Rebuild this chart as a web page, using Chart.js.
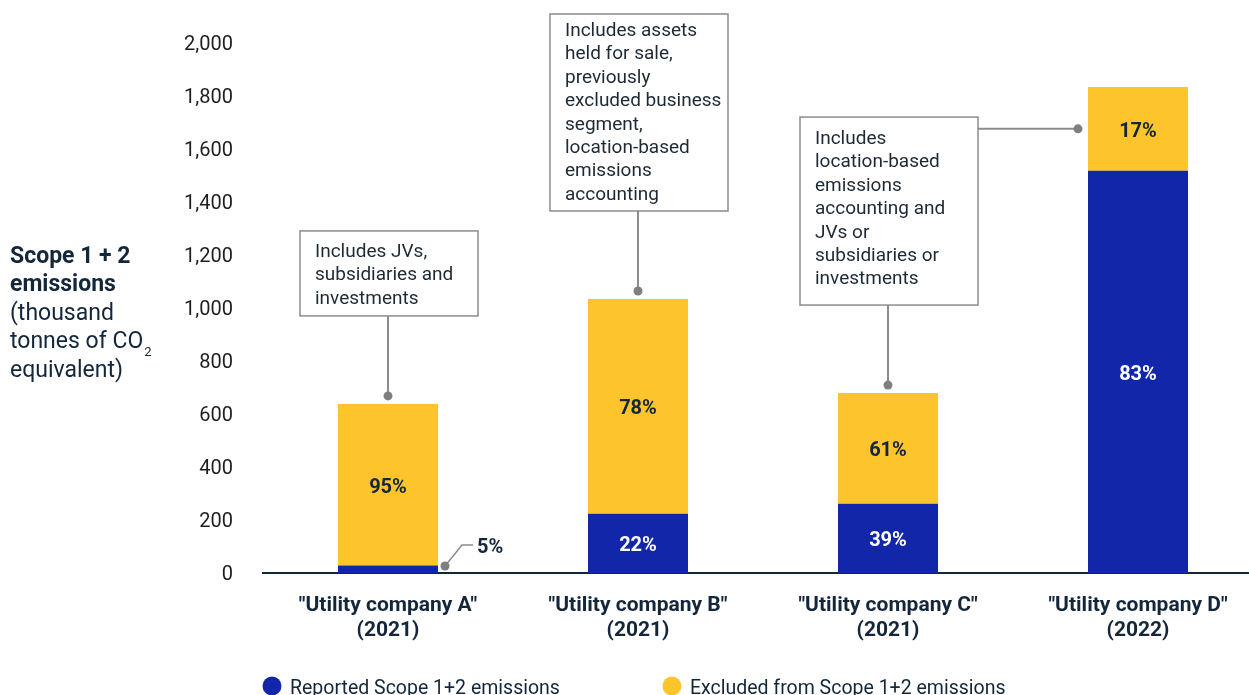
<!DOCTYPE html>
<html>
<head>
<meta charset="utf-8">
<script src="https://cdn.jsdelivr.net/npm/chart.js@4.4.1/dist/chart.umd.min.js"></script>
<style>
    body { margin: 0; background: #ffffff; overflow: hidden; }
    #wrap { position: absolute; left: 0; top: 0; width: 1270px; height: 695px; }
</style>
</head>
<body>
<div id="wrap"><canvas id="scope-emissions-chart" width="1270" height="695"></canvas></div>
<script>
// data
const companies = [
    ['"Utility company A"', '(2021)'],
    ['"Utility company B"', '(2021)'],
    ['"Utility company C"', '(2021)'],
    ['"Utility company D"', '(2022)']
];
const reported = [28, 224, 261, 1518];   // Reported Scope 1+2 (thousand t CO2e)
const excluded = [610, 810, 418, 316];   // Excluded from Scope 1+2
const reportedPct = [5, 22, 39, 83];
const excludedPct = [95, 78, 61, 17];
const seriesNames = ['Reported Scope 1+2 emissions', 'Excluded from Scope 1+2 emissions'];
const yMax = 2000;
const yStep = 200;
const yTitle = ['Scope 1 + 2', 'emissions', '(thousand', 'tonnes of CO', 'equivalent)'];

const noteA = ['Includes JVs,', 'subsidiaries and', 'investments'];
const noteB = ['Includes assets', 'held for sale,', 'previously', 'excluded business', 'segment,', 'location-based', 'emissions', 'accounting'];
const noteC = ['Includes', 'location-based', 'emissions', 'accounting and', 'JVs or', 'subsidiaries or', 'investments'];

const BLUE = '#1226a9';
const YELLOW = '#fdc42b';
const NAVY = '#13263a';
const GREY = '#8c8c8c';

// judul sumbu y
const yTitlePlugin = {
    id: 'yTitle',
    afterDraw(chart) {
        const ctx = chart.ctx;
        ctx.save();
        ctx.fillStyle = NAVY;
        ctx.textBaseline = 'alphabetic';
        yTitle.forEach((line, i) => {
            ctx.font = (i < 2 ? 'bold ' : '') + '23px Roboto';
            const y = 263 + i * 28.4;
            ctx.fillText(line, 10, y);
            if (line.endsWith('CO')) {
                const w = ctx.measureText(line).width;
                ctx.font = '13px Roboto';
                ctx.fillText('2', 10 + w + 1, y + 8);
            }
        });
        ctx.restore();
    }
};

// label persen di dalam bar
const barLabelPlugin = {
    id: 'barLabels',
    afterDatasetsDraw(chart) {
        const ctx = chart.ctx;
        const pcts = [reportedPct, excludedPct];
        ctx.save();
        ctx.font = 'bold 20px Roboto';
        chart.data.datasets.forEach((ds, di) => {
            chart.getDatasetMeta(di).data.forEach((bar, i) => {
                const txt = pcts[di][i] + '%';
                const h = bar.base - bar.y;
                if (h < 25) {
                    // label kecil di luar bar
                    const dx = bar.x + bar.width / 2 + 7, dy = bar.base - 7;
                    ctx.strokeStyle = GREY;
                    ctx.lineWidth = 1.5;
                    ctx.beginPath();
                    ctx.moveTo(dx, dy);
                    ctx.lineTo(dx + 17, dy - 21);
                    ctx.lineTo(dx + 28, dy - 21);
                    ctx.stroke();
                    ctx.fillStyle = '#7f7f7f';
                    ctx.beginPath();
                    ctx.arc(dx, dy, 4.5, 0, Math.PI * 2);
                    ctx.fill();
                    ctx.fillStyle = NAVY;
                    ctx.textAlign = 'left';
                    ctx.textBaseline = 'middle';
                    ctx.fillText(txt, dx + 32, dy - 18);
                } else {
                    ctx.fillStyle = di === 0 ? '#ffffff' : NAVY;
                    ctx.textAlign = 'center';
                    ctx.textBaseline = 'middle';
                    ctx.fillText(txt, bar.x, (bar.y + bar.base) / 2 + 3);
                }
            });
        });
        ctx.restore();
    }
};

// kotak keterangan
const notes = [
    { bar: 0, lines: noteA, height: 85, textTop: 26 },
    { bar: 1, lines: noteB, height: 197, textTop: 22 },
    { bar: 2, lines: noteC, height: 188, textTop: 27 }
];
const notePlugin = {
    id: 'notes',
    afterDraw(chart) {
        const ctx = chart.ctx;
        const tops = chart.getDatasetMeta(1).data;
        ctx.save();
        const boxes = [];
        notes.forEach(n => {
            const bar = tops[n.bar];
            const dotY = bar.y - 8;
            const bottom = dotY - 80;
            const top = bottom - n.height;
            const left = bar.x - 88;
            boxes.push({ left, top, right: left + 178, bottom });
            ctx.strokeStyle = GREY;
            ctx.lineWidth = 2;
            ctx.beginPath();
            ctx.moveTo(bar.x, bottom);
            ctx.lineTo(bar.x, dotY);
            ctx.stroke();
            ctx.fillStyle = '#7f7f7f';
            ctx.beginPath();
            ctx.arc(bar.x, dotY, 4.5, 0, Math.PI * 2);
            ctx.fill();
            ctx.fillStyle = '#ffffff';
            ctx.fillRect(left, top, 178, n.height);
            ctx.lineWidth = 1.5;
            ctx.strokeRect(left, top, 178, n.height);
            ctx.fillStyle = '#1d2935';
            ctx.font = '19px Roboto';
            ctx.textAlign = 'left';
            ctx.textBaseline = 'alphabetic';
            n.lines.forEach((l, i) => ctx.fillText(l, left + 15, top + n.textTop + i * 23.4));
        });
        // garis dari kotak C ke bar D
        const d = tops[3];
        const y = (d.y + d.base) / 2;
        const dotX = d.x - d.width / 2 - 10;
        ctx.strokeStyle = GREY;
        ctx.lineWidth = 2;
        ctx.beginPath();
        ctx.moveTo(boxes[2].right, y);
        ctx.lineTo(dotX, y);
        ctx.stroke();
        ctx.fillStyle = '#7f7f7f';
        ctx.beginPath();
        ctx.arc(dotX, y, 4.5, 0, Math.PI * 2);
        ctx.fill();
        ctx.restore();
    }
};

// legenda bawah
const legendPlugin = {
    id: 'bottomLegend',
    afterDraw(chart) {
        const ctx = chart.ctx;
        ctx.save();
        ctx.font = '19.5px Roboto';
        ctx.textBaseline = 'alphabetic';
        ctx.textAlign = 'left';
        let x = 263;
        chart.data.datasets.forEach(ds => {
            ctx.fillStyle = ds.backgroundColor;
            ctx.beginPath();
            ctx.arc(x + 9, 686, 9.5, 0, Math.PI * 2);
            ctx.fill();
            ctx.fillStyle = NAVY;
            ctx.fillText(ds.label, x + 27, 694);
            x += 27 + ctx.measureText(ds.label).width + 103;
        });
        ctx.restore();
    }
};

const ctx = document.getElementById('scope-emissions-chart').getContext('2d');
new Chart(ctx, {
    type: 'bar',
    data: {
        labels: companies,
        datasets: [
            { label: seriesNames[0], data: reported, backgroundColor: BLUE },
            { label: seriesNames[1], data: excluded, backgroundColor: YELLOW }
        ]
    },
    options: {
        responsive: false,
        animation: false,
        events: [],
        categoryPercentage: 0.4,
        barPercentage: 1,
        layout: { padding: { left: 0, right: 7, top: 43, bottom: 42 } },
        plugins: {
            legend: { display: false },
            tooltip: { enabled: false }
        },
        scales: {
            x: {
                stacked: true,
                grid: { display: false, drawTicks: false },
                border: { display: true, color: NAVY, width: 2 },
                ticks: {
                    color: NAVY,
                    padding: 20,
                    font: { family: 'Roboto', size: 21, weight: 'bold', lineHeight: '25px' }
                },
                afterFit(scale) { scale.height = 80; }
            },
            y: {
                stacked: true,
                min: 0,
                max: yMax,
                grid: { display: false, drawTicks: false },
                border: { display: false },
                ticks: {
                    stepSize: yStep,
                    color: '#1e1e1e',
                    padding: 30,
                    labelOffset: 2,
                    font: { family: 'Roboto', size: 20 }
                },
                afterFit(scale) { scale.width = 263; }
            }
        }
    },
    plugins: [yTitlePlugin, barLabelPlugin, notePlugin, legendPlugin]
});
</script>
</body>
</html>
